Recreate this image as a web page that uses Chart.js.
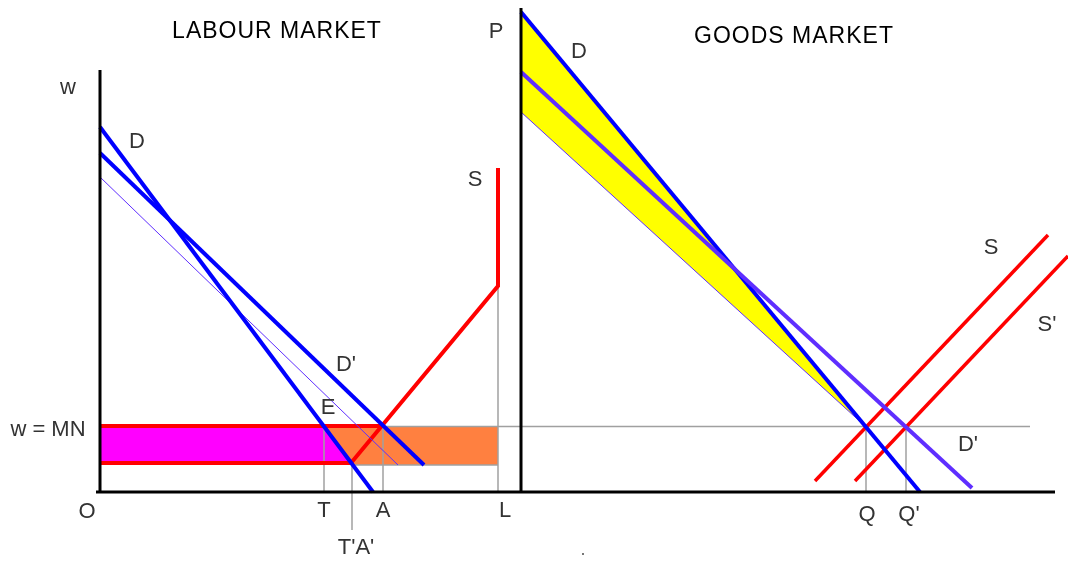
<!DOCTYPE html>
<html>
<head>
<meta charset="utf-8">
<script src="https://cdn.jsdelivr.net/npm/chart.js@4"></script>
<style>
  body { margin: 0; background: #fff; }
  canvas { display: block; }
</style>
</head>
<body>
<canvas id="chart" width="1068" height="562"></canvas>
<script>
"use strict"

//Labour market values (quantity of labour, wage)
const wageMN = 66;
const wageLow = 29;
const qT = 224;
const qTA = 251;
const qA = 283;
const qL = 398;
const demandD_x = [0, 273];
const demandD_y = [365, 0];
const demandD2_x = [0, 324];
const demandD2_y = [339, 27];
const demandThin_x = [0, 298];
const demandThin_y = [315, 27];
const supplyS_x = [qTA, qL, qL];
const supplyS_y = [wageLow, 206, 324];

//Goods market values (quantity, price)
const qQ = 766;
const qQ2 = 806;
const goodsD_x = [421, 820];
const goodsD_y = [480, 0];
const goodsD2_x = [421, 872];
const goodsD2_y = [420, 4];
const goodsThin_x = [421, qQ];
const goodsThin_y = [380, 65];
const goodsS_x = [715, 948];
const goodsS_y = [11, 257];
const goodsS2_x = [755, 968];
const goodsS2_y = [11, 236];

//Axes
const labourAxisTop = 422;
const goodsAxisX = 421;
const goodsAxisTop = 484;
const xAxisEnd = 955;

//make points from x and y lists
function pts(xs, ys) {
  let out = [];
  for (let i = 0; i < xs.length; i++) {
    out.push({x: xs[i], y: ys[i]});
  }
  return out;
}

function line(xs, ys, color, width, order) {
  return {
    data: pts(xs, ys),
    borderColor: color,
    borderWidth: width,
    pointRadius: 0,
    fill: false,
    order: order
  };
}

function area(xs, ys, color) {
  return {
    data: pts(xs.concat([xs[0]]), ys.concat([ys[0]])),
    borderWidth: 0,
    borderColor: "rgba(0,0,0,0)",
    backgroundColor: color,
    pointRadius: 0,
    fill: "shape",
    order: 5
  };
}

//D at a given wage (for the shaded areas)
function demandAt(y) {
  return demandD_x[0] + (demandD_x[1] - demandD_x[0]) * (demandD_y[0] - y) / (demandD_y[0] - demandD_y[1]);
}

const gray = "#a0a0a0";
const blue = "#0000ff";
const purple = "#5f2eff";
const red = "#ff0000";

const datasets = [
  //shaded areas
  area([0, 0, qT, demandAt(wageLow)], [wageLow, wageMN, wageMN, wageLow], "#ff00ff"),
  area([qT, qL, qL, demandAt(27), qTA], [wageMN, wageMN, 27, 27, wageLow], "#ff8040"),
  area([goodsD_x[0], qQ, goodsThin_x[0]], [goodsD_y[0], 65, goodsThin_y[0]], "#ffff00"),
  //guide lines
  line([0, 930], [wageMN - 0.5, wageMN - 0.5], gray, 1.5, 4),
  line([qTA, qL], [27, 27], gray, 1.5, 4),
  line([qT, qT], [0, wageMN], gray, 1.5, 4),
  line([qTA + 1, qTA + 1], [-38, wageLow], gray, 1.5, 4),
  line([qA, qA], [0, wageMN], gray, 1.5, 4),
  line([qL, qL], [0, 206], gray, 1.5, 4),
  line([qQ, qQ], [0, 65], gray, 1.5, 4),
  line([qQ2, qQ2], [0, 65], gray, 1.5, 4),
  //red lines
  line([0, qA], [wageMN, wageMN], red, 4, 3),
  line([0, qTA], [wageLow, wageLow], red, 4, 3),
  line(supplyS_x, supplyS_y, red, 4, 3),
  line(goodsS_x, goodsS_y, red, 3.5, 3),
  line(goodsS2_x, goodsS2_y, red, 3.5, 3),
  //demand curves
  line(demandThin_x, demandThin_y, purple, 1, 2),
  line(goodsThin_x, goodsThin_y, purple, 1, 2),
  line(demandD2_x, demandD2_y, blue, 4, 1),
  line(demandD_x, demandD_y, blue, 4, 1),
  line(goodsD2_x, goodsD2_y, purple, 4, 1),
  line(goodsD_x, goodsD_y, blue, 4, 1),
  //axes
  line([0, 0], [0, labourAxisTop], "#000", 3, 0),
  line([goodsAxisX, goodsAxisX], [0, goodsAxisTop], "#000", 3, 0),
  line([-4, xAxisEnd], [0, 0], "#000", 3, 0)
];

//text labels: [text, x, y, size, color, letter spacing]
const labels = [
  ["LABOUR MARKET", 177, 460, 23, "#000", 1],
  ["GOODS MARKET", 694, 455, 23, "#000", 1],
  ["P", 396, 460, 22, "#333", 0],
  ["w", -32, 404, 22, "#333", 0],
  ["D", 37, 350, 22, "#333", 0],
  ["S", 375, 312, 22, "#333", 0],
  ["D'", 246, 127, 22, "#333", 0],
  ["E", 228, 84, 22, "#333", 0],
  ["w = MN", -52, 62, 22, "#333", 0],
  ["O", -13, -20, 22, "#333", 0],
  ["T", qT, -19, 22, "#333", 0],
  ["A", qA, -19, 22, "#333", 0],
  ["L", qL + 7, -19, 22, "#333", 0],
  ["T'A'", qTA + 5, -56, 22, "#333", 0],
  ["D", 479, 440, 22, "#333", 0],
  ["S", 891, 244, 22, "#333", 0],
  ["S'", 947, 167, 22, "#333", 0],
  ["D'", 868, 47, 22, "#333", 0],
  ["Q", qQ + 1, -23, 22, "#333", 0],
  ["Q'", qQ2 + 3, -23, 22, "#333", 0]
];

const labelPlugin = {
  id: "labels",
  afterDraw(chart) {
    const ctx = chart.ctx;
    const xs = chart.scales.x;
    const ys = chart.scales.y;
    ctx.save();
    ctx.textAlign = "center";
    ctx.textBaseline = "middle";
    for (let i = 0; i < labels.length; i++) {
      const l = labels[i];
      ctx.font = l[3] + "px 'Liberation Sans', Arial, sans-serif";
      ctx.letterSpacing = l[5] + "px";
      ctx.fillStyle = l[4];
      ctx.fillText(l[0], xs.getPixelForValue(l[1]), ys.getPixelForValue(l[2]));
    }
    //small stray dot under the goods market
    ctx.fillStyle = "#777";
    ctx.fillRect(xs.getPixelForValue(482), ys.getPixelForValue(-61), 2, 2);
    ctx.restore();
  }
};

new Chart(document.getElementById("chart"), {
  type: "scatter",
  data: { datasets: datasets },
  options: {
    responsive: false,
    animation: false,
    devicePixelRatio: 1,
    showLine: true,
    layout: { padding: 0 },
    elements: { line: { tension: 0 } },
    scales: {
      x: { type: "linear", min: -100, max: 968, display: false },
      y: { type: "linear", min: -70, max: 492, display: false }
    },
    plugins: {
      legend: { display: false },
      tooltip: { enabled: false }
    }
  },
  plugins: [labelPlugin]
});
</script>
</body>
</html>
